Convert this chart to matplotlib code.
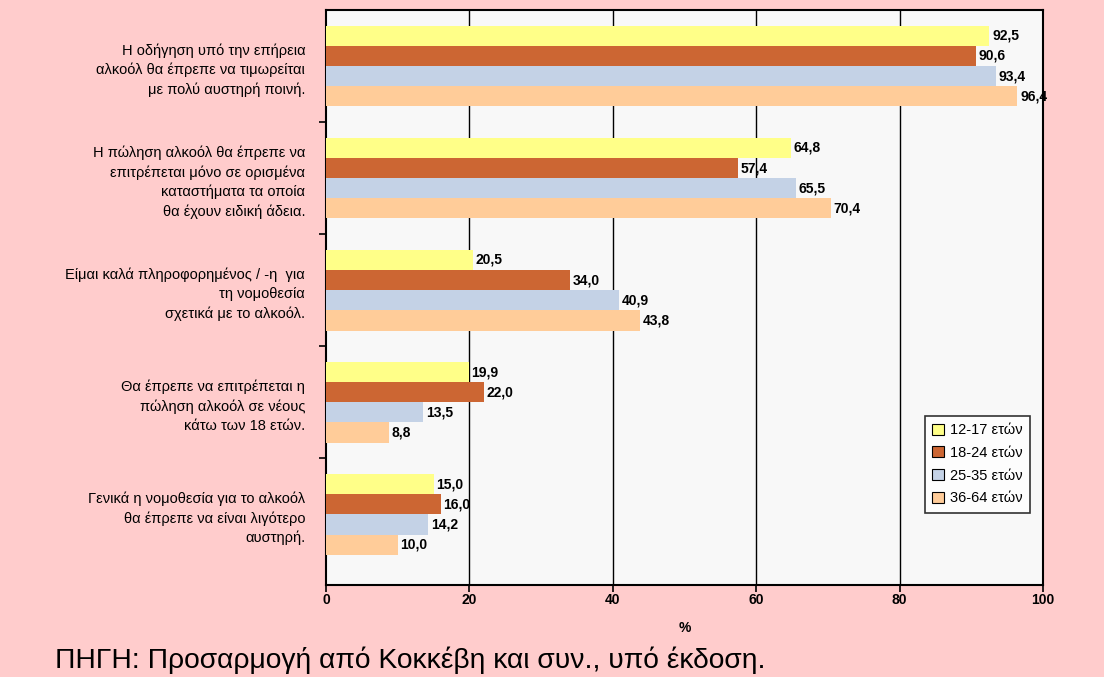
import numpy as np
import matplotlib
matplotlib.use("Agg")
import matplotlib.pyplot as plt
from matplotlib.patches import Patch

plt.rcParams['font.family'] = ['Liberation Sans', 'DejaVu Sans']

statements = [
    "Η οδήγηση υπό την επήρεια\nαλκοόλ θα έπρεπε να τιμωρείται\nμε πολύ αυστηρή ποινή.",
    "Η πώληση αλκοόλ θα έπρεπε να\nεπιτρέπεται μόνο σε ορισμένα\nκαταστήματα τα οποία\nθα έχουν ειδική άδεια.",
    "Είμαι καλά πληροφορημένος / -η  για\nτη νομοθεσία\nσχετικά με το αλκοόλ.",
    "Θα έπρεπε να επιτρέπεται η\nπώληση αλκοόλ σε νέους\nκάτω των 18 ετών.",
    "Γενικά η νομοθεσία για το αλκοόλ\nθα έπρεπε να είναι λιγότερο\nαυστηρή.",
]
age_groups = ["12-17 ετών", "18-24 ετών", "25-35 ετών", "36-64 ετών"]
age_12_17 = [92.5, 64.8, 20.5, 19.9, 15.0]
age_18_24 = [90.6, 57.4, 34.0, 22.0, 16.0]
age_25_35 = [93.4, 65.5, 40.9, 13.5, 14.2]
age_36_64 = [96.4, 70.4, 43.8, 8.8, 10.0]
source_note = "ΠΗΓΗ: Προσαρμογή από Κοκκέβη και συν., υπό έκδοση."

series = [age_12_17, age_18_24, age_25_35, age_36_64]
colors = ["#FFFF88", "#CC6633", "#C4D2E6", "#FFCC99"]

fig = plt.figure(figsize=(11.04, 6.77), dpi=100)
fig.patch.set_facecolor("#FFCCCC")
ax = fig.add_axes([326 / 1104, 1 - 585 / 677, (1043 - 326) / 1104, 575 / 677])
ax.set_facecolor("#F8F8F8")

y = np.arange(len(statements))
h = 0.18
offsets = [-1.5 * h, -0.5 * h, 0.5 * h, 1.5 * h]
for vals, col, off in zip(series, colors, offsets):
    ax.barh(y + off, vals, height=h, color=col, zorder=3)
    for yi, v in zip(y + off, vals):
        ax.text(v + 0.4, yi, f"{v:.1f}".replace(".", ","), va="center", ha="left",
                fontsize=10, fontweight="bold", zorder=4)

ax.set_xlim(0, 100)
ax.set_ylim(4.63, -0.5)
ax.set_xticks([0, 20, 40, 60, 80, 100])
ax.set_xticklabels(["0", "20", "40", "60", "80", "100"], fontsize=10, fontweight="bold")
ax.tick_params(axis="x", direction="out", length=5, width=1.2, pad=1)
for gx in [20, 40, 60, 80]:
    ax.axvline(gx, color="black", lw=1, zorder=1)

ax.set_yticks(y)
ax.set_yticklabels(statements, fontsize=10.5, ha="right", linespacing=1.45)
ax.tick_params(axis="y", length=0, pad=15)
ax.set_yticks([0.5, 1.5, 2.5, 3.5], minor=True)
ax.tick_params(axis="y", which="minor", direction="out", length=5, width=1.2)

for s in ax.spines.values():
    s.set_color("black")
    s.set_linewidth(1.5)

ax.set_xlabel("%", fontsize=10, fontweight="bold", labelpad=10)

handles = [Patch(facecolor=c, edgecolor="black", lw=0.8) for c in colors]
leg = ax.legend(handles, age_groups, loc="lower right", bbox_to_anchor=(0.9916, 0.113),
                fontsize=10.5, frameon=True, fancybox=False, edgecolor="black",
                handlelength=0.8, handleheight=0.8, handletextpad=0.4,
                labelspacing=0.6, borderpad=0.5)
leg.get_frame().set_linewidth(1.2)
leg.get_frame().set_facecolor("white")

fig.text(55 / 1104, 1 - 660 / 677, source_note, fontsize=20.3, va="center", ha="left")

fig.savefig("out.png", dpi=100, facecolor=fig.get_facecolor())
